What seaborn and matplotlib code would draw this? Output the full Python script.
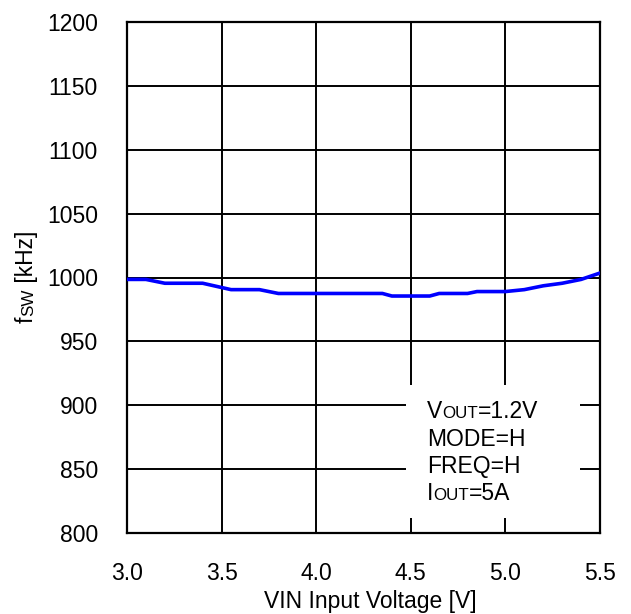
import matplotlib
matplotlib.use("Agg")
import matplotlib.pyplot as plt
import seaborn as sns
import pandas as pd
from matplotlib.patches import Rectangle

# ---- data ----
vin = [3.0, 3.1, 3.2, 3.4, 3.55, 3.7, 3.8, 4.35, 4.4, 4.6, 4.65, 4.8, 4.85,
       5.0, 5.1, 5.2, 5.3, 5.4, 5.5]
fsw = [998.5, 998.5, 995.5, 995.5, 990.5, 990.5, 987.5, 987.5, 985.5, 985.5,
       987.5, 987.5, 989.0, 989.0, 990.5, 993.5, 995.5, 998.5, 1003.5]
x_ticks = [3.0, 3.5, 4.0, 4.5, 5.0, 5.5]
x_tick_labels = ["3.0", "3.5", "4.0", "4.5", "5.0", "5.5"]
y_ticks = [800, 850, 900, 950, 1000, 1050, 1100, 1150, 1200]
xlabel_text = "VIN Input Voltage [V]"
ylabel_parts = [("f", 1.0), ("SW", 0.74), (" [kHz]", 1.0)]
cond_lines = [
    [("V", 1.0), ("OUT", 0.74), ("=1.2V", 1.0)],
    [("MODE=H", 1.0)],
    [("FREQ=H", 1.0)],
    [("I", 1.0), ("OUT", 0.74), ("=5A", 1.0)],
]

df = pd.DataFrame({"vin": vin, "fsw": fsw})

sns.set_theme(style="white")
plt.rcParams["font.family"] = ["Liberation Sans", "DejaVu Sans"]

W, H = 631, 614
FS = 16.5
fig = plt.figure(figsize=(W / 100, H / 100), dpi=100)
ax = fig.add_axes([127 / W, 1 - 533 / H, (600 - 127) / W, (533 - 22) / H])

sns.lineplot(data=df, x="vin", y="fsw", ax=ax, color="#0000ff", lw=2.6,
             zorder=3, clip_on=True)

ax.set_xlim(3.0, 5.5)
ax.set_ylim(800, 1200)
ax.set_xticks(x_ticks)
ax.set_xticklabels(x_tick_labels)
ax.set_yticks(y_ticks)
ax.tick_params(axis="both", length=0, pad=21, labelsize=FS, colors="black")
ax.set_xlabel("")
ax.set_ylabel("")

ax.set_axisbelow(True)
ax.grid(True, color="black", lw=1.4)
for sp in ax.spines.values():
    sp.set_color("black")
    sp.set_linewidth(1.6)
    sp.set_visible(True)

# white box behind the conditions text
ax.add_patch(Rectangle(((406 - 127) / 473, (533 - 518) / 511),
                       (580 - 406) / 473, (518 - 385) / 511,
                       transform=ax.transAxes, facecolor="white",
                       edgecolor="none", zorder=1.5))

fig.canvas.draw()
renderer = fig.canvas.get_renderer()


def seq_text(x_px, y_img, parts, rotation=0):
    """Draw text pieces one after another; (x_px, y_img) baseline start in image px."""
    x = x_px
    y = H - y_img
    for s, scale in parts:
        t = fig.text(x / W, y / H, s, fontsize=FS * scale, rotation=rotation,
                     rotation_mode="anchor", ha="left", va="baseline",
                     color="black", zorder=5)
        bb = t.get_window_extent(renderer)
        if rotation == 0:
            x = bb.x1
        else:
            y = bb.y1


# x label
fig.text(370 / W, 1 - 608 / H, xlabel_text, fontsize=FS, ha="center",
         va="baseline", color="black")

# y label (rotated, built from pieces)
seq_text(33, 323, ylabel_parts, rotation=90)

# conditions
baselines = [418, 445.5, 473, 500.5]
for parts, yb in zip(cond_lines, baselines):
    seq_text(427, yb, parts)

fig.savefig("out.png", dpi=100)
